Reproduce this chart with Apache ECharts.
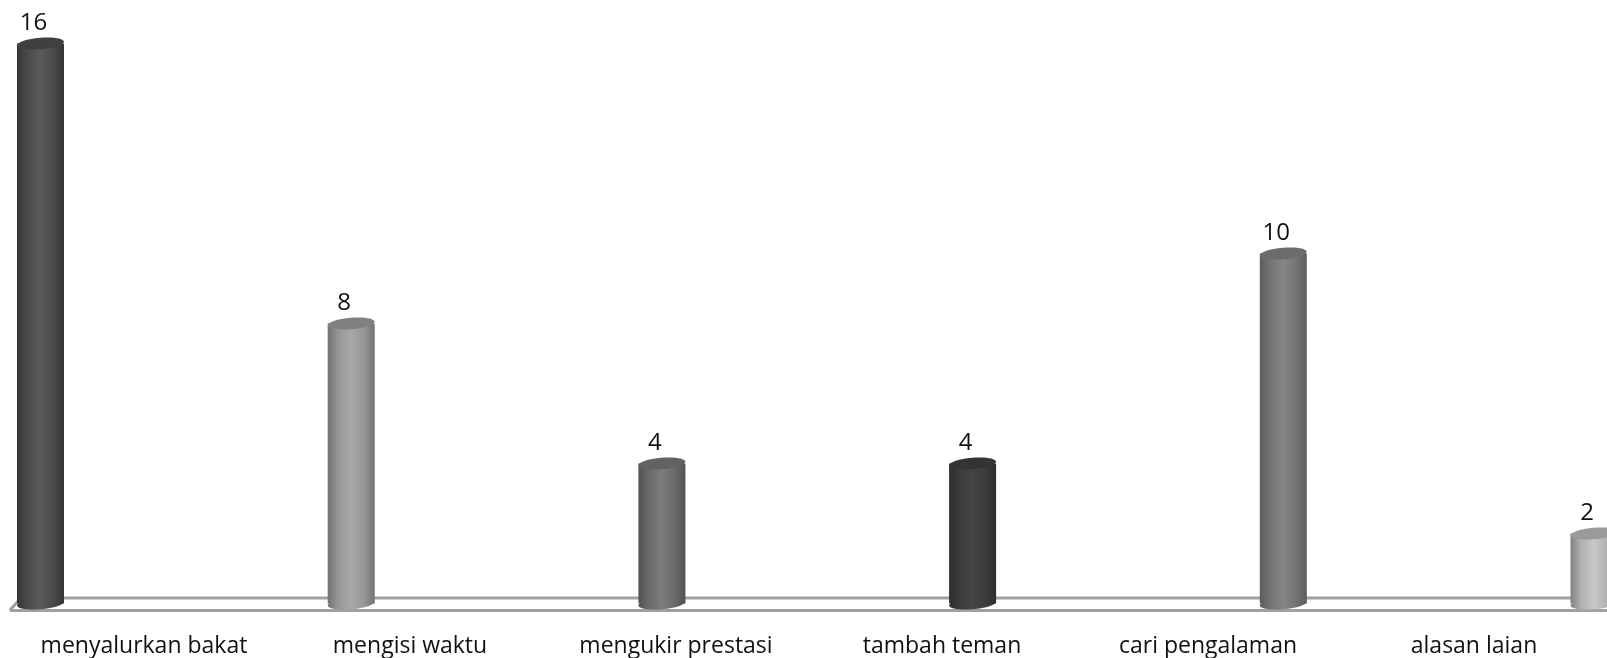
<!DOCTYPE html>
<html>
<head>
<meta charset="utf-8">
<style>html,body{margin:0;padding:0;background:#fff}#c{width:1607px;height:658px}</style>
<script src="https://cdn.jsdelivr.net/npm/echarts@6/dist/echarts.min.js"></script>
</head>
<body>
<div id="c"></div>
<script>
const categories = ['menyalurkan bakat','mengisi waktu','mengukir prestasi','tambah teman','cari pengalaman','alasan laian'];
const values = [16, 8, 4, 4, 10, 2];
const edgeColors = ['#353535','#727272','#525252','#2e2e2e','#5c5c5c','#808080'];
const sideColors = ['#4a4a4a','#969696','#6a6a6a','#3b3b3b','#747474','#b0b0b0'];
const midColors  = ['#5a5a5a','#a8a8a8','#7c7c7c','#454545','#868686','#c8c8c8'];
const capColors  = ['#404040','#808080','#626262','#343434','#6c6c6c','#9a9a9a'];

const BAR_W = 47, TILT = 0.085, RY = 5.8;
const chart = echarts.init(document.getElementById('c'), null, {renderer:'canvas'});

function renderBar(params, api){
  const i = api.value(0);
  const top = api.coord([i, api.value(1)]);
  const base = api.coord([i, 0]);
  const g = new echarts.graphic.LinearGradient(0,0,1,0,[
    {offset:0,color:edgeColors[i]},
    {offset:0.22,color:sideColors[i]},
    {offset:0.5,color:midColors[i]},
    {offset:0.78,color:sideColors[i]},
    {offset:1,color:edgeColors[i]}
  ]);
  const x0 = top[0]-BAR_W/2;
  return {type:'group',children:[
    {type:'ellipse',x:base[0],y:base[1],rotation:TILT,
      shape:{cx:0,cy:0,rx:BAR_W/2,ry:RY},style:{fill:g}},
    {type:'rect',shape:{x:x0,y:top[1],width:BAR_W,height:base[1]-top[1]},style:{fill:g}},
    {type:'ellipse',x:top[0],y:top[1],rotation:TILT,
      shape:{cx:0,cy:0,rx:BAR_W/2,ry:RY},style:{fill:capColors[i]}},
    {type:'text',x:top[0]-7,y:top[1]-20,
      style:{text:String(api.value(1)),font:'24px "Open Sans", sans-serif',fill:'#111',align:'center',verticalAlign:'middle'}}
  ]};
}

chart.setOption({
  animation:false,
  backgroundColor:'#fff',
  grid:[
    {left:11,right:0,top:43.5,bottom:48},
    {left:40.5,right:13,top:43.5,bottom:54.5}
  ],
  xAxis:[
    {type:'category',gridIndex:0,data:categories,
      axisLine:{show:true,lineStyle:{color:'#a0a0a0',width:3}},axisTick:{show:false},
      axisLabel:{interval:0,margin:25,fontFamily:'"Open Sans", sans-serif',fontSize:23,color:'#111'}},
    {type:'category',gridIndex:1,data:categories,boundaryGap:false,show:false}
  ],
  yAxis:[
    {type:'value',gridIndex:0,show:false,min:0,max:16},
    {type:'value',gridIndex:1,show:false,min:0,max:16,splitLine:{show:false}}
  ],
  graphic:[{type:'polyline',z:0,shape:{points:[[10,610],[21,598],[1607,598]]},
    style:{stroke:'#a0a0a0',lineWidth:3,fill:null}}],
  series:[{
    type:'custom',xAxisIndex:1,yAxisIndex:1,z:10,clip:false,
    data:values.map((v,i)=>[i,v]),
    renderItem:renderBar
  }]
});
</script>
</body>
</html>
